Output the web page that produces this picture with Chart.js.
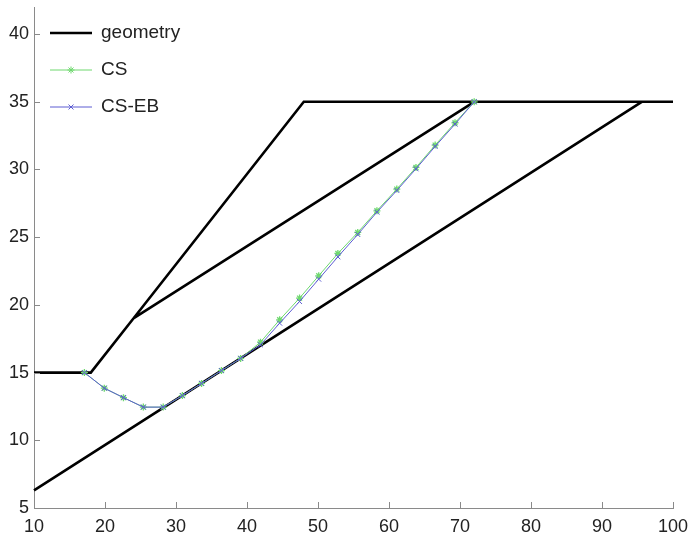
<!DOCTYPE html>
<html>
<head>
<meta charset="utf-8">
<script src="https://cdn.jsdelivr.net/npm/chart.js@4.4.1/dist/chart.umd.min.js"></script>
<style>
  html, body { margin: 0; padding: 0; background: #fff; }
  #wrap { width: 689px; height: 538px; }
</style>
</head>
<body>
<div id="wrap"><canvas id="myChart"></canvas></div>
<script>
// geometry outline, null entries break the line into pieces
const geoX = [10, 18, 24, 48, 100, null, 24, 72, null, 10, 95.6];
const geoY = [15, 15, 19, 35, 35, null, 19, 35, null, 6.3, 35];

// slip surfaces
const slipX = [17.1, 19.9, 22.6, 25.4, 28.2, 30.9, 33.6, 36.4, 39.1, 41.9, 44.6,
               47.4, 50.1, 52.8, 55.6, 58.3, 61.1, 63.8, 66.5, 69.3, 72];
const csY = [15, 13.85, 13.15, 12.45, 12.45, 13.3, 14.2, 15.15, 16.05, 17.25, 18.9,
             20.5, 22.15, 23.8, 25.35, 26.95, 28.55, 30.15, 31.8, 33.45, 35];
const ebY = [15, 13.85, 13.15, 12.45, 12.45, 13.3, 14.2, 15.15, 16.05, 17.05, 18.65,
             20.25, 21.9, 23.55, 25.2, 26.85, 28.45, 30.05, 31.7, 33.35, 35];

const xTicks = [10, 20, 30, 40, 50, 60, 70, 80, 90, 100];
const yTicks = [5, 10, 15, 20, 25, 30, 35, 40];

const FONT = 'Arial, "Liberation Sans", Helvetica, sans-serif';

function toPoints(xs, ys) {
    return xs.map(function(x, i) {
        return { x: x, y: ys[i] };
    });
}

// MATLAB style ticks pointing into the plot
const innerTicks = {
    id: 'innerTicks',
    afterDraw: function(chart) {
        const ctx = chart.ctx;
        const xs = chart.scales.x;
        const ys = chart.scales.y;
        ctx.save();
        ctx.strokeStyle = '#8a8a8a';
        ctx.lineWidth = 1;
        ctx.beginPath();
        xTicks.forEach(function(v) {
            const px = Math.round(xs.getPixelForValue(v)) + 0.5;
            ctx.moveTo(px, ys.bottom);
            ctx.lineTo(px, ys.bottom - 6);
        });
        yTicks.forEach(function(v) {
            const py = Math.round(ys.getPixelForValue(v)) + 0.5;
            ctx.moveTo(xs.left, py);
            ctx.lineTo(xs.left + 6, py);
        });
        ctx.stroke();
        ctx.restore();
    }
};

// legend inside the plot, line sample with marker
const innerLegend = {
    id: 'innerLegend',
    afterDraw: function(chart) {
        const ctx = chart.ctx;
        const left = chart.chartArea.left;
        ctx.save();
        chart.data.datasets.forEach(function(ds, i) {
            const y = 33 + i * 37;
            const x0 = left + 16;
            const x1 = left + 58;
            ctx.strokeStyle = ds.borderColor;
            ctx.lineWidth = ds.borderWidth;
            ctx.beginPath();
            ctx.moveTo(x0, y);
            ctx.lineTo(x1, y);
            ctx.stroke();
            if (ds.pointStyle) {
                Chart.helpers.drawPoint(ctx, {
                    pointStyle: ds.pointStyle,
                    radius: ds.pointRadius,
                    borderWidth: 1
                }, (x0 + x1) / 2, y);
            }
            ctx.fillStyle = '#222';
            ctx.font = '19px ' + FONT;
            ctx.textBaseline = 'middle';
            ctx.textAlign = 'left';
            ctx.fillText(ds.label, left + 67, y);
        });
        ctx.restore();
    }
};

function drawChart() {
    const ctx = document.getElementById('myChart');
    new Chart(ctx, {
        type: 'scatter',
        data: {
            datasets: [{
                label: 'geometry',
                data: toPoints(geoX, geoY),
                showLine: true,
                spanGaps: false,
                borderColor: '#000',
                backgroundColor: '#000',
                borderWidth: 2.6,
                pointRadius: 0,
                order: 3
            }, {
                label: 'CS',
                data: toPoints(slipX, csY),
                showLine: true,
                borderColor: '#6fd86f',
                backgroundColor: '#6fd86f',
                borderWidth: 1,
                pointStyle: 'star',
                pointRadius: 3.5,
                pointBorderWidth: 1.3,
                order: 2
            }, {
                label: 'CS-EB',
                data: toPoints(slipX, ebY),
                showLine: true,
                borderColor: '#5c5cd2',
                backgroundColor: '#5c5cd2',
                borderWidth: 1,
                pointStyle: 'crossRot',
                pointRadius: 3.5,
                pointBorderWidth: 1,
                order: 1
            }]
        },
        options: {
            responsive: true,
            maintainAspectRatio: false,
            animation: false,
            clip: false,
            layout: {
                padding: { top: 7, right: 16, left: 0, bottom: 0 }
            },
            plugins: {
                legend: { display: false },
                tooltip: { enabled: false }
            },
            scales: {
                x: {
                    type: 'linear',
                    min: 10,
                    max: 100,
                    afterFit: function(scale) {
                        scale.height = 30;
                        scale.paddingLeft = 0;
                        scale.paddingRight = 0;
                    },
                    afterBuildTicks: function(scale) {
                        scale.ticks = xTicks.map(function(v) { return { value: v }; });
                    },
                    grid: { display: false, drawTicks: false },
                    border: { display: true, color: '#8a8a8a', width: 1 },
                    ticks: {
                        padding: 8,
                        color: '#222',
                        maxRotation: 0,
                        font: { family: FONT, size: 18 }
                    }
                },
                y: {
                    type: 'linear',
                    min: 5,
                    max: 42,
                    afterFit: function(scale) {
                        scale.width = 34;
                        scale.paddingTop = 0;
                        scale.paddingBottom = 0;
                    },
                    afterBuildTicks: function(scale) {
                        scale.ticks = yTicks.map(function(v) { return { value: v }; });
                    },
                    grid: { display: false, drawTicks: false },
                    border: { display: true, color: '#8a8a8a', width: 1 },
                    ticks: {
                        padding: 5,
                        color: '#222',
                        font: { family: FONT, size: 18 }
                    }
                }
            }
        },
        plugins: [innerTicks, innerLegend]
    });
}

document.addEventListener('DOMContentLoaded', function() {
    drawChart();
});
</script>
</body>
</html>
